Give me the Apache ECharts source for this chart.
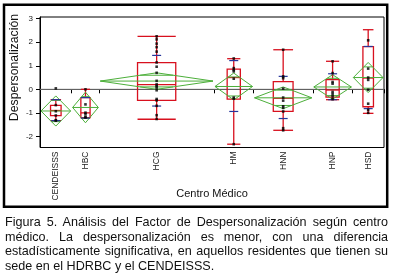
<!DOCTYPE html>
<html>
<head>
<meta charset="utf-8">
<script src="https://cdn.jsdelivr.net/npm/echarts@6/dist/echarts.min.js"></script>
<style>
  html, body { margin: 0; padding: 0; background: #fff; }
  #chart { position: absolute; left: 0; top: 0; width: 394px; height: 280px; }
  #caption {
    position: absolute; left: 5px; top: 215px; width: 383px;
    font-family: "Liberation Sans", Arial, sans-serif; font-size: 12.6px;
    line-height: 14.5px; color: #111;
  }
  #caption div { text-align: justify; text-align-last: justify; white-space: nowrap; }
  #caption div.last { text-align-last: left; }
</style>
</head>
<body>
<div id="chart"></div>
<div id="caption">
  <div>Figura 5. Análisis del Factor de Despersonalización según centro</div>
  <div>médico. La despersonalización es menor, con una diferencia</div>
  <div>estadísticamente significativa, en aquellos residentes que tienen su</div>
  <div class="last">sede en el HDRBC y el CENDEISSS.</div>
</div>
<script>
// groups (x width proportional to group size)
const categories = ['CENDEISSS', 'HBC', 'HCG', 'HM', 'HNN', 'HNP', 'HSD']
const groupSizes = [8, 7, 29, 10, 15, 10, 8]

// means diamonds
const means = [-0.92, -0.77, 0.35, 0.12, -0.36, 0.10, 0.50]
const ciHalf = [0.64, 0.65, 0.35, 0.57, 0.46, 0.52, 0.64]

// box plots
const whiskerLow = [-1.33, -1.22, -1.27, -2.33, -1.74, -0.44, -1.02]
const q1 = [-1.12, -1.20, -0.47, -0.42, -0.94, -0.33, -0.74]
const medians = [-0.90, -1.00, 0.20, 0.50, -0.38, -0.03, 0.48]
const q3 = [-0.68, -0.35, 1.13, 0.86, 0.33, 0.41, 1.81]
const whiskerHigh = [-0.44, 0.00, 2.25, 1.30, 1.68, 1.19, 2.53]
const blueLow = [-1.33, -1.22, -0.71, -0.94, -1.24, -0.44, -0.82]
const blueHigh = [-0.44, -0.35, 1.44, 1.22, 0.55, 0.66, 1.82]

// individual observations
const points = [
  [0.04, -0.67, -0.93, -1.11, -1.31, -1.33],
  [0.00, -0.64, -0.99, -1.05, -1.16, -1.20],
  [2.25, 2.12, 1.94, 1.79, 1.60, 1.14, 0.96, 0.70, 0.36, 0.21, 0.14, 0.07, -0.04, -0.41, -0.47, -0.70, -1.10, -1.26],
  [1.31, 0.90, 0.82, 0.76, 0.45, -0.35, -0.40, -2.33],
  [1.68, 0.55, 0.47, 0.03, -0.35, -0.48, -0.72, -0.79, -0.94, -1.65, -1.74],
  [1.19, 0.69, 0.31, 0.24, -0.11, -0.20, -0.30, -0.42],
  [2.08, 0.88, 0.50, 0.40, -0.02, -0.61, -0.87, -1.00]
]

const yTicks = [-2, -1, 0, 1, 2, 3]

// cumulative bounds of each group on the x scale
const bounds = []
let acc = 0
groupSizes.forEach((n, i) => {
  bounds.push([acc, acc + n, i])
  acc += n
})
const total = acc
const centers = bounds.map(b => (b[0] + b[1]) / 2)
const boundaryTicks = bounds.slice(1).map(b => b[0]).concat([total])

const scatterData = []
points.forEach((list, i) => {
  list.forEach(v => scatterData.push([centers[i], v]))
})

const RED = '#d8101e'
const GREEN = '#4caf3a'
const BLUE = '#26359a'

const renderGroup = (params, api) => {
  const i = api.value(2)
  const x0 = api.coord([api.value(0), 0])[0]
  const x1 = api.coord([api.value(1), 0])[0]
  const xc = (x0 + x1) / 2
  const bw = (x1 - x0) / 3
  const y = v => api.coord([0, v])[1]
  const line = (xa, ya, xb, yb, color, w) => ({
    type: 'line',
    shape: { x1: xa, y1: ya, x2: xb, y2: yb },
    style: { stroke: color, lineWidth: w || 1 }
  })
  const children = []

  // box plot
  children.push(line(xc, y(q3[i]), xc, y(whiskerHigh[i]), RED, 1.3))
  children.push(line(xc, y(q1[i]), xc, y(whiskerLow[i]), RED, 1.3))
  children.push(line(xc - bw / 2, y(whiskerHigh[i]), xc + bw / 2, y(whiskerHigh[i]), RED, 1.3))
  children.push(line(xc - bw / 2, y(whiskerLow[i]), xc + bw / 2, y(whiskerLow[i]), RED, 1.3))
  children.push({
    type: 'rect',
    shape: { x: xc - bw / 2, y: y(q3[i]), width: bw, height: y(q1[i]) - y(q3[i]) },
    style: { fill: 'none', stroke: RED, lineWidth: 1.3 }
  })
  children.push(line(xc - bw / 2, y(medians[i]), xc + bw / 2, y(medians[i]), RED, 1.3))

  // means diamond
  const m = means[i]
  const h = ciHalf[i]
  const l = x0 + 1
  const r = x1 - 1
  children.push({
    type: 'polygon',
    shape: { points: [[l, y(m)], [xc, y(m + h)], [r, y(m)], [xc, y(m - h)]] },
    style: { fill: 'none', stroke: GREEN, lineWidth: 1 }
  })
  children.push(line(l, y(m), r, y(m), GREEN, 1))
  const ov = h / Math.SQRT2
  const hw = (r - l) / 2 * (1 - 1 / Math.SQRT2)
  children.push(line(xc - hw, y(m + ov), xc + hw, y(m + ov), GREEN, 1))
  children.push(line(xc - hw, y(m - ov), xc + hw, y(m - ov), GREEN, 1))

  // quantile marks
  children.push(line(xc - 4.5, y(blueHigh[i]), xc + 4.5, y(blueHigh[i]), BLUE, 1.2))
  children.push(line(xc - 4.5, y(blueLow[i]), xc + 4.5, y(blueLow[i]), BLUE, 1.2))

  return { type: 'group', children }
}

const chart = echarts.init(document.getElementById('chart'))

const option = {
  animation: false,
  backgroundColor: '#fff',
  textStyle: { fontFamily: 'Liberation Sans, Arial, sans-serif' },
  grid: {
    left: 40,
    top: 17,
    width: 344,
    height: 130.5,
    show: true,
    borderColor: '#000',
    borderWidth: 1,
    containLabel: false,
    outerBoundsMode: 'none'
  },
  xAxis: {
    type: 'value',
    min: 0,
    max: total,
    name: 'Centro Médico',
    nameLocation: 'middle',
    nameGap: 41,
    nameMoveOverlap: false,
    nameTextStyle: { fontSize: 11, color: '#111' },
    axisLine: { show: true, lineStyle: { color: '#000', width: 1 } },
    axisTick: {
      show: true,
      length: 4,
      customValues: boundaryTicks,
      lineStyle: { color: '#000' }
    },
    axisLabel: {
      customValues: centers,
      rotate: 90,
      margin: 4,
      fontSize: 8.5,
      color: '#222',
      formatter: v => {
        const k = centers.findIndex(c => Math.abs(c - v) < 1e-6)
        return k >= 0 ? categories[k] : ''
      }
    },
    splitLine: { show: false }
  },
  yAxis: {
    type: 'value',
    min: -2.47,
    max: 3.07,
    axisLine: { show: true, lineStyle: { color: '#000', width: 1 } },
    axisTick: {
      show: true,
      length: 4,
      customValues: yTicks,
      lineStyle: { color: '#000' }
    },
    axisLabel: {
      customValues: yTicks,
      margin: 7,
      fontSize: 8,
      color: '#222'
    },
    splitLine: { show: false }
  },
  graphic: [
    {
      type: 'rect',
      shape: { x: 4, y: 4.7, width: 383.2, height: 202 },
      style: { fill: 'none', stroke: '#000', lineWidth: 2.5 },
      silent: true
    },
    {
      type: 'text',
      x: 15,
      y: 67.5,
      rotation: Math.PI / 2,
      style: {
        text: 'Despersonalización',
        fontSize: 12.3,
        fontFamily: 'Liberation Sans, Arial, sans-serif',
        fill: '#111',
        align: 'center',
        verticalAlign: 'middle'
      },
      silent: true
    }
  ],
  series: [
    {
      type: 'line',
      data: [[0, 0], [total, 0]],
      symbol: 'none',
      lineStyle: { color: '#777', width: 1 },
      z: 1,
      silent: true
    },
    {
      type: 'custom',
      renderItem: renderGroup,
      data: bounds,
      encode: { x: [0, 1] },
      z: 2,
      silent: true
    },
    {
      type: 'scatter',
      data: scatterData,
      symbol: 'rect',
      symbolSize: [2.6, 2.6],
      itemStyle: { color: '#000' },
      z: 3,
      silent: true
    }
  ]
}

chart.setOption(option)
</script>
</body>
</html>
